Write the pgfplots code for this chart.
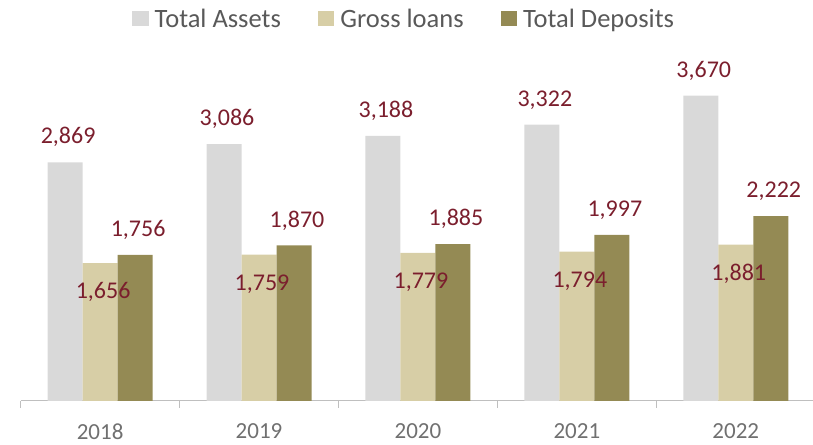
\documentclass[border=0pt]{standalone}
\usepackage{fontspec}
\setmainfont{Carlito}
\usepackage{pgfplots}
\pgfplotsset{compat=1.18}
\definecolor{cAssets}{HTML}{D9D9D9}
\definecolor{cLoans}{HTML}{D7CEA6}
\definecolor{cDep}{HTML}{948A54}
\definecolor{cLab}{HTML}{7B1E2D}
\definecolor{cTxt}{HTML}{595959}
\definecolor{cTick}{HTML}{707070}
\definecolor{cAxis}{HTML}{BFBFBF}
\begin{document}
\begin{tikzpicture}
\begin{axis}[
  at={(20.7pt,43pt)}, anchor=south west,
  scale only axis, width=794.5pt, height=332.8pt,
  xmin=-0.5, xmax=4.5, ymin=0, ymax=4000,
  axis x line*=bottom, axis y line=none,
  ybar, bar width=35pt,
  xtick={0,...,4}, xticklabels={2018,2019,2020,2021,2022},
  major tick length=0pt,
  minor xtick={-0.5,0.5,...,4.5},
  minor tick length=7pt, tick align=outside,
  x axis line style={cAxis, line width=1pt},
  minor x tick style={cAxis, line width=1pt},
  major x tick style={draw=none},
  xticklabel style={font=\fontsize{23}{27}\selectfont, text=cTick, anchor=center, yshift=-30.5pt},
  clip=false,
  /pgf/number format/.cd, 1000 sep={,}, assume math mode=true, /pgfplots/.cd,
  nodes near coords,
  every node near coord/.append style={font=\fontsize{24}{28}\selectfont, text=cLab, anchor=base, inner sep=0pt},
  legend columns=3,
  legend style={at={(0.1401,1.148)}, anchor=west, draw=none, fill=none,
    font=\fontsize{26.5}{31}\selectfont, text=cTxt, inner sep=0pt,
    /tikz/every odd column/.append style={column sep=6pt},
    /tikz/every even column/.append style={column sep=37pt},
    nodes={inner sep=0pt}},
  legend image code/.code={\fill[#1] (0pt,-7.5pt) rectangle (16.5pt,8pt);},
]
\addplot[fill=cAssets, draw=none, bar shift=-35pt,
  every node near coord/.append style={xshift=3pt, yshift=18.4pt}]
  coordinates {(0,2869) (1,3086) (2,3188) (3,3322) (4,3670)};
\addplot[fill=cLoans, draw=none, bar shift=0pt,
  every node near coord/.append style={xshift=3pt, yshift=-35.6pt}]
  coordinates {(0,1656) (1,1759) (2,1779) (3,1794) (4,1881)};
\addplot[fill=cDep, draw=none, bar shift=35pt,
  every node near coord/.append style={xshift=3pt, yshift=18.4pt}]
  coordinates {(0,1756) (1,1870) (2,1885) (3,1997) (4,2222)};
\legend{Total Assets, Gross loans, Total Deposits}
\end{axis}
\pgfresetboundingbox
\path[use as bounding box] (0,0) rectangle (813pt,444pt);
\end{tikzpicture}
\end{document}
